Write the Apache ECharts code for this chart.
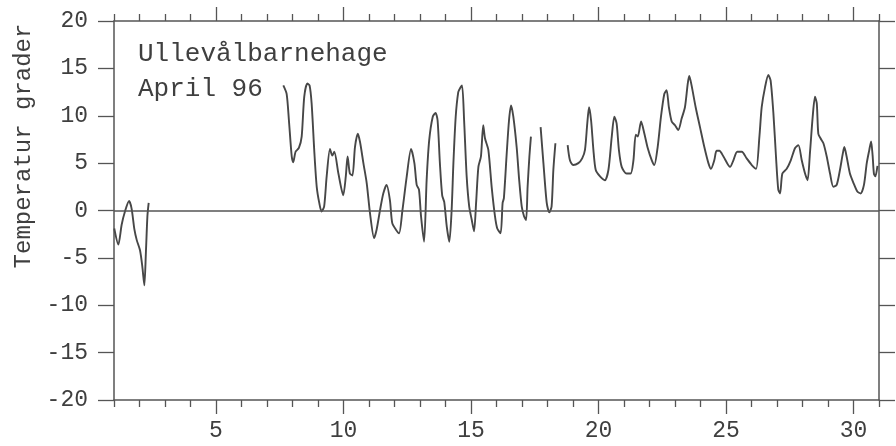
<!DOCTYPE html>
<html><head><meta charset="utf-8">
<script src="https://cdn.jsdelivr.net/npm/echarts@6/dist/echarts.min.js"></script>
<style>html,body{margin:0;padding:0;background:#fff}#c{width:896px;height:446px}</style>
</head><body><div id="c"></div>
<script>
// ---- data (day of April, temperature in degrees C) ----
const seg1Days  = [1.01,1.17,1.30,1.43,1.59,1.69,1.80,1.89,2.02,2.11,2.19,2.25,2.31,2.36];
const seg1Temps = [-1.9,-3.6,-1.5,-0.1,1.0,0.2,-2.0,-3.1,-4.2,-5.9,-7.9,-4.5,-0.6,0.8];

const seg2Days  = [7.64,7.77,7.86,7.97,8.03,8.12,8.25,8.36,8.46,8.58,8.67,8.75,8.86,8.95,9.05,9.14,9.24,9.34,9.47,9.56,9.64,9.80,9.99,10.09,10.16,10.25,10.35,10.45,10.56,10.65,10.78,10.91,11.04,11.20,11.30,11.43,11.56,11.69,11.82,11.91,12.05,12.18,12.31,12.48,12.65,12.78,12.87,12.96,13.04,13.16,13.26,13.36,13.50,13.61,13.69,13.78,13.87,13.95,14.05,14.15,14.24,14.31,14.40,14.50,14.57,14.65,14.73,14.83,14.93,15.03,15.12,15.20,15.29,15.39,15.48,15.55,15.68,15.81,15.94,16.03,16.16,16.24,16.29,16.40,16.49,16.57,16.66,16.79,16.89,16.99,17.08,17.16,17.22,17.29,17.35];
const seg2Temps = [13.2,12.3,9.5,5.7,5.1,6.2,6.6,7.8,12.0,13.4,13.2,11.3,6.0,2.5,0.8,-0.1,0.4,3.6,6.5,5.8,6.2,3.9,1.6,3.6,5.7,3.9,3.7,6.7,8.1,7.2,5.0,2.9,-0.3,-2.9,-2.0,0.0,1.8,2.7,1.1,-1.3,-2.0,-2.4,0.0,3.6,6.5,5.0,2.7,2.2,-0.6,-3.3,3.2,7.4,9.9,10.3,9.5,5.0,1.6,0.9,-1.7,-3.3,0.0,5.0,9.9,12.5,12.9,13.2,9.5,3.6,0.4,-1.0,-2.2,0.8,4.6,5.7,9.0,7.6,6.4,2.5,-0.6,-1.9,-2.4,0.8,1.3,6.0,9.5,11.1,9.9,6.7,3.2,0.4,-0.6,-1.0,2.5,5.7,7.8];

const seg3Days  = [17.73,17.84,17.97,18.07,18.16,18.23,18.31];
const seg3Temps = [8.8,5.0,0.8,-0.2,0.4,4.3,7.1];

const seg4Days  = [18.79,18.88,19.01,19.21,19.36,19.47,19.56,19.63,19.71,19.80,19.89,20.06,20.25,20.39,20.52,20.62,20.71,20.80,20.91,21.10,21.26,21.37,21.46,21.54,21.67,21.80,21.93,22.09,22.19,22.32,22.45,22.58,22.67,22.76,22.87,23.00,23.13,23.26,23.39,23.50,23.56,23.65,23.81,23.98,24.15,24.31,24.41,24.54,24.63,24.74,24.90,25.16,25.29,25.44,25.62,25.81,26.01,26.18,26.31,26.40,26.53,26.66,26.75,26.86,26.96,27.05,27.12,27.21,27.38,27.54,27.71,27.84,27.97,28.10,28.20,28.29,28.40,28.49,28.56,28.62,28.71,28.82,28.95,29.08,29.21,29.34,29.47,29.58,29.64,29.73,29.86,30.00,30.15,30.28,30.41,30.52,30.62,30.69,30.75,30.80,30.86,30.94];
const seg4Temps = [6.9,5.3,4.8,5.0,5.5,6.4,9.2,10.9,9.5,6.4,4.3,3.6,3.2,4.3,7.8,9.9,9.2,6.4,4.6,3.9,3.9,5.3,8.0,7.8,9.4,8.1,6.6,5.3,4.8,6.7,9.9,12.3,12.7,10.9,9.4,9.0,8.5,9.7,10.9,13.4,14.2,13.2,10.9,8.8,6.7,5.0,4.4,5.3,6.3,6.3,5.7,4.6,5.3,6.2,6.2,5.5,4.8,4.4,7.8,10.9,13.0,14.3,13.7,10.2,5.7,2.2,1.8,3.9,4.4,5.3,6.6,6.9,5.3,3.9,3.2,6.0,9.9,12.0,11.3,8.1,7.6,7.1,5.7,3.9,2.5,2.7,4.3,6.0,6.7,5.7,3.9,2.9,2.0,1.8,2.7,5.0,6.4,7.3,5.8,3.9,3.6,4.7];

const xMajorTicks = [5,10,15,20,25,30];
const xMinorTicks = [1,2,3,4,6,7,8,9,11,12,13,14,16,17,18,19,21,22,23,24,26,27,28,29,31];
const yTicks = [-20,-15,-10,-5,0,5,10,15,20];
const yTitle = 'Temperatur grader';
const note1 = 'Ullevålbarnehage';
const note2 = 'April 96';

// ---- chart ----
const FONT = "'Liberation Mono','Courier New',monospace";
const AX = '#555';
const TXT = '#3f3f3f';
const zip = (a, b) => a.map((d, i) => [d, b[i]]);

function xAx(pos, ticks, len, labels, line) {
  return {
    type: 'value', min: 1, max: 31, position: pos,
    axisLine: { show: line, onZero: false, lineStyle: { color: AX, width: 1.5 } },
    axisTick: { show: true, inside: false, length: len, customValues: ticks, lineStyle: { color: AX, width: 1.3 } },
    axisLabel: labels ? { show: true, customValues: ticks, fontFamily: FONT, fontSize: 23, color: TXT, margin: 19 } : { show: false },
    splitLine: { show: false }
  };
}
function yAx(pos, labels) {
  return {
    type: 'value', min: -20, max: 20, interval: 5, position: pos,
    axisLine: { show: true, onZero: false, lineStyle: { color: AX, width: 1.5 } },
    axisTick: { show: true, inside: false, length: 16, customValues: yTicks, lineStyle: { color: AX, width: 1.3 } },
    axisLabel: labels ? { show: true, customValues: yTicks, fontFamily: FONT, fontSize: 23, color: TXT, margin: 26 } : { show: false },
    splitLine: { show: false }
  };
}
const lineStyle = { color: '#474747', width: 1.9 };
function seg(days, temps, extra) {
  return Object.assign({
    type: 'line', xAxisIndex: 0, yAxisIndex: 0, data: zip(days, temps),
    showSymbol: false, symbol: 'none', smooth: 0.25, lineStyle: lineStyle, silent: true
  }, extra || {});
}

const chart = echarts.init(document.getElementById('c'));
chart.setOption({
  animation: false,
  backgroundColor: '#fff',
  grid: { left: 114, right: 17, top: 21, bottom: 46 },
  xAxis: [
    xAx('bottom', xMajorTicks, 14, true, true),
    xAx('bottom', xMinorTicks, 7, false, false),
    xAx('top', xMajorTicks, 14, false, true),
    xAx('top', xMinorTicks, 7, false, false)
  ],
  yAxis: [yAx('left', true), yAx('right', false)],
  series: [
    seg(seg1Days, seg1Temps, {
      markLine: { silent: true, symbol: 'none', label: { show: false },
        lineStyle: { color: '#555', type: 'solid', width: 1.5 }, data: [{ yAxis: 0 }] }
    }),
    seg(seg2Days, seg2Temps),
    seg(seg3Days, seg3Temps),
    seg(seg4Days, seg4Temps)
  ],
  graphic: [
    { type: 'text', x: 24, y: 146, rotation: Math.PI / 2,
      style: { text: yTitle, font: '24px ' + FONT, fill: TXT, align: 'center', verticalAlign: 'middle' } },
    { type: 'text', x: 138, y: 54,
      style: { text: note1, font: '26px ' + FONT, fill: TXT, align: 'left', verticalAlign: 'middle' } },
    { type: 'text', x: 138, y: 89,
      style: { text: note2, font: '26px ' + FONT, fill: TXT, align: 'left', verticalAlign: 'middle' } }
  ]
});
</script>
</body></html>
